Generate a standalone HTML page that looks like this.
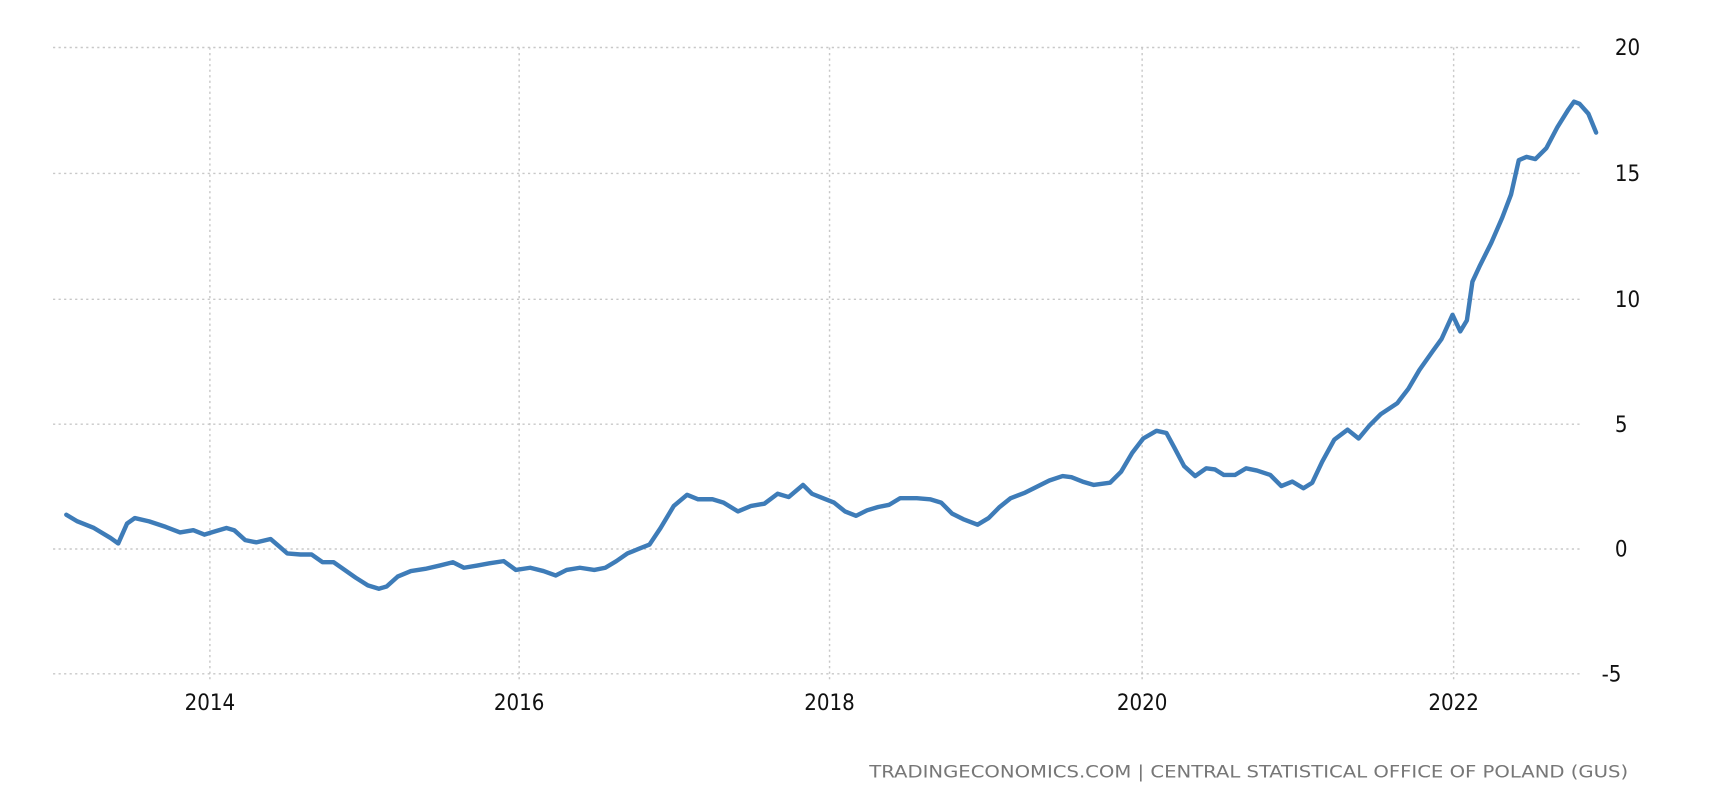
<!DOCTYPE html>
<html><head><meta charset="utf-8"><style>
html,body{margin:0;padding:0;background:#fff;}
svg{display:block;}
</style></head><body>
<svg width="1732" height="807" viewBox="0 0 1568 730.6" xmlns="http://www.w3.org/2000/svg">
<g stroke="#c8c8c8" stroke-width="1.3" stroke-dasharray="2,3" fill="none">
<line x1="48" y1="43" x2="1432" y2="43"/>
<line x1="48" y1="157" x2="1432" y2="157"/>
<line x1="48" y1="271" x2="1432" y2="271"/>
<line x1="48" y1="384" x2="1432" y2="384"/>
<line x1="48" y1="497" x2="1432" y2="497"/>
<line x1="48" y1="610" x2="1432" y2="610"/>
<line x1="190" y1="43" x2="190" y2="618"/>
<line x1="470" y1="43" x2="470" y2="618"/>
<line x1="751" y1="43" x2="751" y2="618"/>
<line x1="1034" y1="43" x2="1034" y2="618"/>
<line x1="1316" y1="43" x2="1316" y2="618"/>
</g>
<g font-family="'DejaVu Sans Condensed','Liberation Sans Narrow','Liberation Sans',sans-serif" font-size="20" fill="#111">
<text x="1462" y="50">20</text>
<text x="1462" y="164">15</text>
<text x="1462" y="278">10</text>
<text x="1462" y="391">5</text>
<text x="1462" y="504">0</text>
<text x="1450" y="617">-5</text>
<g text-anchor="middle">
<text x="190" y="643">2014</text>
<text x="470" y="643">2016</text>
<text x="751" y="643">2018</text>
<text x="1034" y="643">2020</text>
<text x="1316" y="643">2022</text>
</g>
</g>
<text x="1474" y="704" text-anchor="end" font-family="'DejaVu Sans Condensed','Liberation Sans Narrow',sans-serif" font-size="15" fill="#777" textLength="687" lengthAdjust="spacingAndGlyphs">TRADINGECONOMICS.COM | CENTRAL STATISTICAL OFFICE OF POLAND (GUS)</text>
<polyline fill="none" stroke="#3e7cb8" stroke-width="4" stroke-linejoin="round" stroke-linecap="round" points="60,466 70,472 85,478 100,487 107,492 115,474 122,469 135,472 150,477 163,482 175,480 185,484 195,481 205,478 212,480 222,489 232,491 245,488 252,494 260,501 272,502 282,502 292,509 302,509 312,516 322,523 333,530 343,533 350,531 360,522 372,517 385,515 398,512 410,509 420,514 432,512 443,510 456,508 467,516 480,514 492,517 503,521 513,516 525,514 538,516 548,514 558,508 568,501 578,497 588,493 598,478 610,458 622,448 632,452 645,452 655,455 668,463 680,458 692,456 704,447 714,450 727,439 735,447 745,451 755,455 765,463 775,467 785,462 795,459 805,457 815,451 830,451 842,452 852,455 862,465 872,470 885,475 895,469 905,459 915,451 928,446 938,441 950,435 962,431 970,432 980,436 990,439 1005,437 1015,427 1025,410 1035,397 1047,390 1056,392 1063,405 1072,422 1082,431 1092,424 1100,425 1108,430 1118,430 1128,424 1138,426 1150,430 1160,440 1170,436 1180,442 1188,437 1197,418 1208,398 1220,389 1230,397 1240,385 1250,375 1265,365 1275,352 1285,335 1297,318 1305,307 1315,285 1322,300 1328,290 1333,255 1340,240 1350,220 1360,197 1368,176 1375,145 1382,142 1390,144 1400,134 1410,115 1420,99 1425,92 1430,94 1438,103 1445,120"/>
</svg>
</body></html>
